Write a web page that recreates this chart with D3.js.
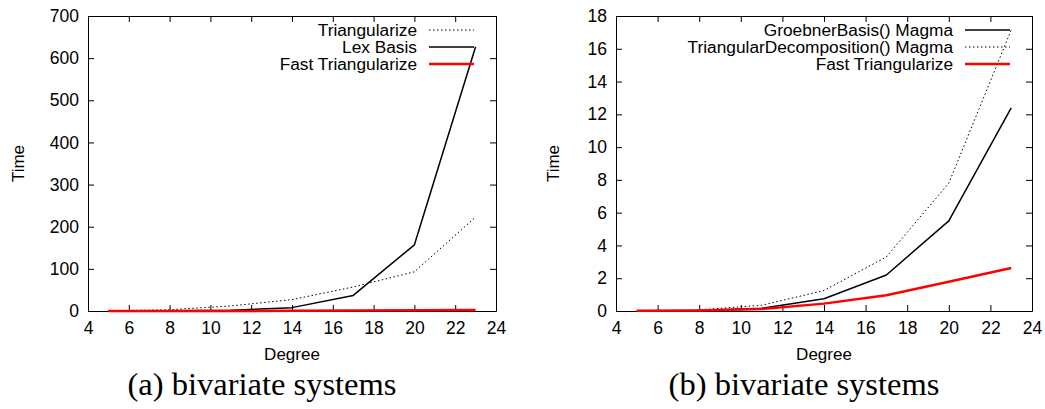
<!DOCTYPE html>
<meta charset="utf-8">
<script src="https://d3js.org/d3.v7.min.js"></script>
<style>
body { margin: 0; background: #fff; }
svg text { font-family: "Liberation Sans", Arial, sans-serif; }
.caption { font-family: "Liberation Serif", "DejaVu Serif", serif !important; }
</style>
<body>
<div id="chart"></div>
<script>

// data
const degrees = [5, 8, 11, 14, 17, 20, 23];
const triangularize = [0.5, 3, 12, 27, 57, 93, 223];
const lexBasis = [0.1, 0.4, 1.5, 8, 37, 157, 627];
const fastTriangularize = [0.01, 0.03, 0.12, 0.45, 0.96, 1.78, 2.62];
const groebnerMagma = [0.005, 0.03, 0.17, 0.75, 2.2, 5.5, 12.4];
const triangularDecompMagma = [0.01, 0.07, 0.35, 1.25, 3.3, 7.8, 17.15];

const xTicks = [4, 6, 8, 10, 12, 14, 16, 18, 20, 22, 24];
const yTicksA = [0, 100, 200, 300, 400, 500, 600, 700];
const yTicksB = [0, 2, 4, 6, 8, 10, 12, 14, 16, 18];

const svg = d3.select("#chart").append("svg")
    .attr("width", 1045)
    .attr("height", 409);

const panels = [
  {
    left: 88, width: 408, yMax: 700, yTicks: yTicksA, caption: "(a) bivariate systems",
    timeX: -70, captionX: 262,
    series: [
      {name: "Triangularize", values: triangularize, style: "dotted"},
      {name: "Lex Basis", values: lexBasis, style: "solid"},
      {name: "Fast Triangularize", values: fastTriangularize, style: "red"}
    ]
  },
  {
    left: 616, width: 416, yMax: 18, yTicks: yTicksB, caption: "(b) bivariate systems",
    timeX: -63, captionX: 804,
    series: [
      {name: "GroebnerBasis() Magma", values: groebnerMagma, style: "solid"},
      {name: "TriangularDecomposition() Magma", values: triangularDecompMagma, style: "dotted"},
      {name: "Fast Triangularize", values: fastTriangularize, style: "red"}
    ]
  }
];

const plotTop = 16, height = 295;

function styleLine(sel, style) {
  if (style == "dotted") {
    sel.attr("stroke", "#000").attr("stroke-width", 1).attr("stroke-dasharray", "1.5,2.5");
  } else if (style == "red") {
    sel.attr("stroke", "#ff0000").attr("stroke-width", 2.5);
  } else {
    sel.attr("stroke", "#000").attr("stroke-width", 1.5);
  }
  return sel;
}

panels.forEach(p => {
  const g = svg.append("g").attr("transform", `translate(${p.left},${plotTop})`);

  const x = d3.scaleLinear().domain([4, 24]).range([0, p.width]);
  const y = d3.scaleLinear().domain([0, p.yMax]).range([height, 0]);

  // axes, ticks pointing inward (gnuplot style, mirrored)
  g.append("g").attr("transform", `translate(0,${height})`)
    .call(d3.axisBottom(x).tickValues(xTicks).tickSize(-6).tickSizeOuter(0).tickPadding(11));
  g.append("g")
    .call(d3.axisLeft(y).tickValues(p.yTicks).tickSize(-6).tickSizeOuter(0).tickPadding(9));
  g.append("g")
    .call(d3.axisTop(x).tickValues(xTicks).tickSize(-6).tickSizeOuter(0).tickFormat(""));
  g.append("g").attr("transform", `translate(${p.width},0)`)
    .call(d3.axisRight(y).tickValues(p.yTicks).tickSize(-6).tickSizeOuter(0).tickFormat(""));

  g.selectAll(".tick text").attr("font-size", 17.5).attr("fill", "#000")
    .attr("font-family", "Liberation Sans, Arial, sans-serif");
  g.selectAll(".domain, .tick line").attr("stroke", "#000").attr("stroke-width", 1);

  // series
  const line = d3.line().x((d, i) => x(degrees[i])).y(d => y(d));
  p.series.forEach(s => {
    styleLine(g.append("path").datum(s.values)
      .attr("fill", "none")
      .attr("stroke-linejoin", "round")
      .attr("d", line), s.style);
  });

  // legend
  p.series.forEach((s, i) => {
    const ly = 14 + i * 17;
    g.append("text")
      .attr("x", p.width - 79).attr("y", ly)
      .attr("dy", "0.35em")
      .attr("text-anchor", "end")
      .attr("font-size", 17.3)
      .text(s.name);
    styleLine(g.append("line")
      .attr("x1", p.width - 67).attr("x2", p.width - 22)
      .attr("y1", ly).attr("y2", ly), s.style);
  });

  // axis titles
  g.append("text")
    .attr("transform", `translate(${p.timeX},${height / 2}) rotate(-90)`)
    .attr("text-anchor", "middle")
    .attr("dy", "0.35em")
    .attr("font-size", 17)
    .text("Time");
  g.append("text")
    .attr("x", p.width / 2).attr("y", height + 49)
    .attr("text-anchor", "middle")
    .attr("font-size", 17)
    .text("Degree");

  // caption
  svg.append("text")
    .attr("class", "caption")
    .attr("x", p.captionX).attr("y", 395)
    .attr("text-anchor", "middle")
    .attr("font-size", 32.5)
    .text(p.caption);
});

</script>
</body>
